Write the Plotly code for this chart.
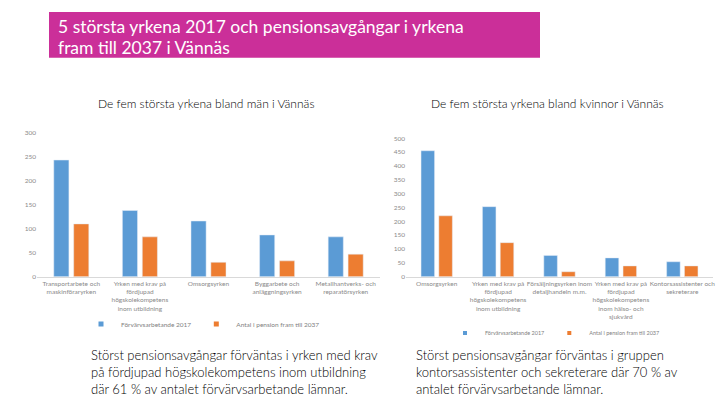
import plotly.graph_objects as go

# ---- data ----
men_categories = [
    "Transportarbete och<br>maskinföraryrken",
    "Yrken med krav på<br>fördjupad<br>högskolekompetens<br>inom utbildning",
    "Omsorgsyrken",
    "Byggarbete och<br>anläggningsyrken",
    "Metallhantverks- och<br>reparatörsyrken",
]
men_employed_2017 = [243, 138, 116, 87, 83]
men_retire_2037 = [110, 83, 30, 33, 47]

women_categories = [
    "Omsorgsyrken",
    "Yrken med krav på<br>fördjupad<br>högskolekompetens<br>inom utbildning",
    "Försäljningsyrken inom<br>detaljhandeln m.m.",
    "Yrken med krav på<br>fördjupad<br>högskolekompetens<br>inom hälso- och<br>sjukvård",
    "Kontorsassistenter och<br>sekreterare",
]
women_employed_2017 = [455, 253, 77, 68, 54]
women_retire_2037 = [220, 123, 18, 39, 39]

series_names = ["Förvärvsarbetande 2017", "Antal i pension fram till 2037"]
colors = ["#5B9BD5", "#ED7D31"]

title_lines = ["5 största yrkena 2017 och pensionsavgångar i yrkena", "fram till 2037 i Vännäs"]
subtitle_men = "De fem största yrkena bland män i Vännäs"
subtitle_women = "De fem största yrkena bland kvinnor i Vännäs"
note_men = ("Störst pensionsavgångar förväntas i yrken med krav<br>"
            "på fördjupad högskolekompetens inom utbildning<br>"
            "där 61 % av antalet förvärvsarbetande lämnar.")
note_women = ("Störst pensionsavgångar förväntas i gruppen<br>"
              "kontorsassistenter och sekreterare där 70 % av<br>"
              "antalet förvärvsarbetande lämnar.")

W, H = 720, 405
FONT = "Lato"

def px(x):
    return x / W

def py(y):
    return 1 - y / H

fig = go.Figure()

for vals, name, col in zip([men_employed_2017, men_retire_2037], series_names, colors):
    fig.add_trace(go.Bar(x=men_categories, y=vals, name=name, marker_color=col,
                         xaxis="x", yaxis="y", showlegend=False))
for vals, name, col in zip([women_employed_2017, women_retire_2037], series_names, colors):
    fig.add_trace(go.Bar(x=women_categories, y=vals, name=name, marker_color=col,
                         xaxis="x2", yaxis="y2", showlegend=False))

# legend entries with small square symbols (as in the original)
for name, col in zip(series_names, colors):
    fig.add_trace(go.Scatter(x=[None], y=[None], mode="markers", name=name,
                             marker=dict(symbol="square", size=5, color=col),
                             xaxis="x", yaxis="y", legend="legend"))
for name, col in zip(series_names, colors):
    fig.add_trace(go.Scatter(x=[None], y=[None], mode="markers", name=name,
                             marker=dict(symbol="square", size=4, color=col),
                             xaxis="x2", yaxis="y2", legend="legend2"))

tick_font = dict(family=FONT, size=6.5, color="#8a8a8a")

fig.update_layout(
    width=W, height=H,
    margin=dict(l=0, r=0, t=0, b=0),
    paper_bgcolor="white", plot_bgcolor="white",
    barmode="group", bargap=0.42, bargroupgap=0.24,
    font=dict(family=FONT),
    xaxis=dict(domain=[px(37), px(380)], anchor="y", tickfont=tick_font,
               showline=True, linecolor="#d9d9d9", linewidth=1, ticks="",
               tickangle=0, automargin=False, type="category"),
    yaxis=dict(domain=[py(276.7), py(132.7)], anchor="x", range=[0, 300], dtick=50,
               showgrid=False, zeroline=False, tickfont=tick_font, ticks="",
               automargin=False),
    xaxis2=dict(domain=[px(406), px(713)], anchor="y2", tickfont=tick_font,
                showline=True, linecolor="#d9d9d9", linewidth=1, ticks="",
                tickangle=0, automargin=False, type="category"),
    yaxis2=dict(domain=[py(276.7), py(138.3)], anchor="x2", range=[0, 500], dtick=50,
                showgrid=False, zeroline=False, tickfont=tick_font, ticks="",
                automargin=False),
    legend=dict(orientation="h", x=px(203), y=py(324), xanchor="center", yanchor="middle",
                font=dict(family=FONT, size=6.5, color="#7f7f7f"), bgcolor="rgba(0,0,0,0)",
                itemwidth=30, itemsizing="trace"),
    legend2=dict(orientation="h", x=px(555), y=py(333), xanchor="center", yanchor="middle",
                 font=dict(family=FONT, size=5.5, color="#7f7f7f"), bgcolor="rgba(0,0,0,0)",
                 itemwidth=30, itemsizing="trace"),
)

# title box
fig.add_shape(type="rect", xref="paper", yref="paper",
              x0=px(49), x1=px(540), y0=py(57.7), y1=py(12),
              fillcolor="#CB2F99", line=dict(width=0), layer="below")
for yline, txt in zip([27, 48], title_lines):
    fig.add_annotation(text=txt, xref="paper", yref="paper", x=px(56), y=py(yline),
                       xanchor="left", yanchor="middle", showarrow=False,
                       font=dict(family=FONT, size=17.5, color="white"))

fig.add_annotation(text=subtitle_men, xref="paper", yref="paper", x=px(206), y=py(103),
                   xanchor="center", yanchor="middle", showarrow=False,
                   font=dict(family=FONT, size=12, color="black", weight=300))
fig.add_annotation(text=subtitle_women, xref="paper", yref="paper", x=px(547), y=py(103),
                   xanchor="center", yanchor="middle", showarrow=False,
                   font=dict(family=FONT, size=12, color="black", weight=300))

fig.add_annotation(text=note_men, xref="paper", yref="paper", x=px(89), y=py(372),
                   xanchor="left", yanchor="middle", align="left", showarrow=False,
                   font=dict(family=FONT, size=13, color="black", weight=300))
fig.add_annotation(text=note_women, xref="paper", yref="paper", x=px(414), y=py(372),
                   xanchor="left", yanchor="middle", align="left", showarrow=False,
                   font=dict(family=FONT, size=13, color="black", weight=300))

fig.write_html("out.html")
